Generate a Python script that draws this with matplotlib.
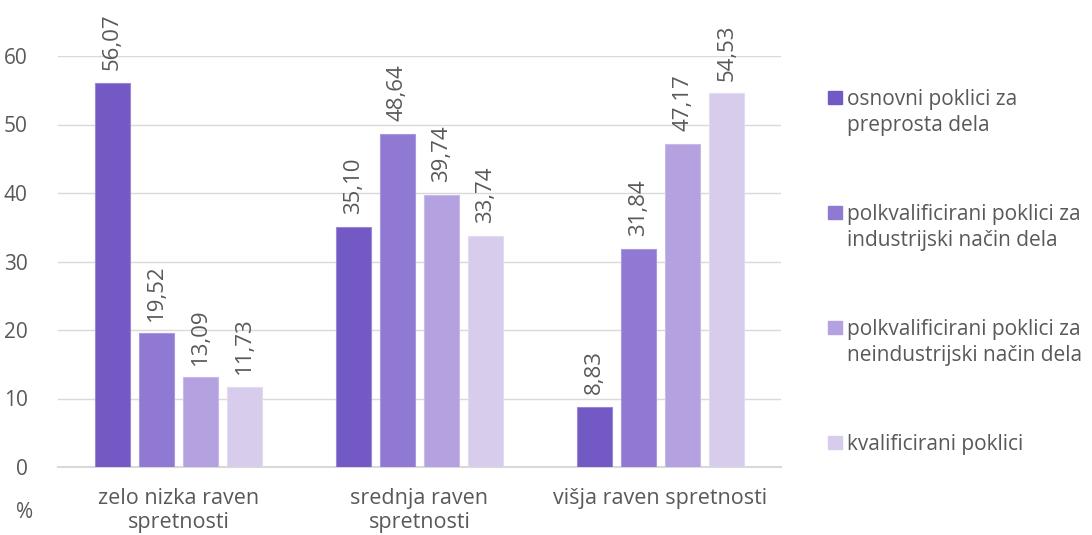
import matplotlib
matplotlib.use("Agg")
import matplotlib.pyplot as plt
from matplotlib.patches import Rectangle
import numpy as np

plt.rcParams['font.family'] = ['Open Sans', 'DejaVu Sans']

categories = ["zelo nizka raven\nspretnosti", "srednja raven\nspretnosti", "višja raven spretnosti"]
series_names = ["osnovni poklici za\npreprosta dela",
                "polkvalificirani poklici za\nindustrijski način dela",
                "polkvalificirani poklici za\nneindustrijski način dela",
                "kvalificirani poklici"]
values = [
    [56.07, 35.10, 8.83],
    [19.52, 48.64, 31.84],
    [13.09, 39.74, 47.17],
    [11.73, 33.74, 54.53],
]
colors = ["#7259C4", "#9079D3", "#B3A1E0", "#D8CCED"]
edge_colors = ["#9A88D6", "#A898DD", "#C8BBE8", "#E4DAF3"]
yticks = [0, 10, 20, 30, 40, 50, 60]

W, H = 1092, 535
FS = 15
fig = plt.figure(figsize=(W / 100, H / 100), dpi=100)
ax = fig.add_axes([58 / W, (H - 467) / H, (781 - 58) / W, (467 - 56) / H])

text_color = "#595959"
grid_color = "#D9D9D9"
x = np.arange(len(categories))
step = 0.183
bw = 0.145
for i, (name, vals, c, ec) in enumerate(zip(series_names, values, colors, edge_colors)):
    xs = x + (i - 1.5) * step
    ax.bar(xs, vals, width=bw, color=c, edgecolor=ec, linewidth=0.8, zorder=3, label=name)
    for xi, v in zip(xs, vals):
        ax.annotate(f"{v:.2f}".replace(".", ","), (xi, v), xytext=(0, 9),
                    textcoords="offset points", rotation=90, ha="center", va="bottom",
                    fontsize=16, color=text_color, annotation_clip=False)

ax.set_ylim(0, 60)
ax.set_xlim(-0.5, 2.5)
ax.set_yticks(yticks)
ax.set_yticklabels([str(t) for t in yticks], fontsize=FS, color=text_color)
ax.set_xticks(x)
ax.set_xticklabels(categories, fontsize=15.5, color=text_color, linespacing=1.22)
ax.tick_params(axis="both", length=0)
ax.tick_params(axis="y", pad=22)
ax.tick_params(axis="x", pad=15)
ax.yaxis.grid(True, color=grid_color, linewidth=1, zorder=0)
ax.set_axisbelow(True)
for s in ["top", "right", "left"]:
    ax.spines[s].set_visible(False)
ax.spines["bottom"].set_color(grid_color)
ax.spines["bottom"].set_linewidth(1.5)

fig.text(16 / W, 1 - 512 / H, "%", fontsize=FS, color=text_color, ha="left", va="center")

# legend drawn manually
first_line_y = [97, 212, 327, 442]
for name, c, yy in zip(series_names, colors, first_line_y):
    fig.patches.append(Rectangle((828 / W, 1 - (yy + 6.5) / H), 14 / W, 13 / H,
                                 transform=fig.transFigure, color=c, figure=fig))
    fig.text(847 / W, 1 - yy / H, name.split("\n")[0], fontsize=FS, color=text_color,
             ha="left", va="center_baseline")
    if "\n" in name:
        fig.text(847 / W, 1 - (yy + 26) / H, name.split("\n")[1], fontsize=FS,
                 color=text_color, ha="left", va="center_baseline")

fig.savefig("out.png", dpi=100)
